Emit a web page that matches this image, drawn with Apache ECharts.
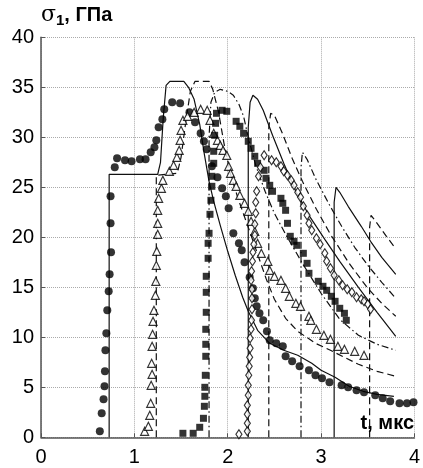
<!DOCTYPE html>
<html>
<head>
<meta charset="utf-8">
<script src="https://cdn.jsdelivr.net/npm/echarts@6/dist/echarts.min.js"></script>
<style>
  html, body { margin: 0; padding: 0; background: #fff; }
  #chart { width: 423px; height: 468px; }
</style>
</head>
<body>
<div id="chart"></div>
<script>
// Axis ticks
const xTicks = [0, 1, 2, 3, 4];
const yTicks = [0, 5, 10, 15, 20, 25, 30, 35, 40];

// Measured stress histories [t, mks ; sigma, GPa]
const circles = [
  [0.63,0.6],[0.65,2.4],[0.67,3.8],[0.68,5.1],[0.685,6.6],[0.69,8.7],[0.70,10.4],[0.71,12.7],
  [0.725,14.6],[0.735,16.3],[0.75,18.5],[0.745,21.4],[0.745,24.1],[0.79,27.0],[0.815,27.9],
  [0.90,27.7],[0.97,27.6],[1.06,27.8],[1.12,27.8],[1.175,28.5],[1.215,29.0],[1.235,29.7],
  [1.26,31.0],[1.30,31.8],[1.32,32.8],[1.405,33.5],[1.49,33.4],[1.59,32.5],[1.65,31.5],
  [1.71,30.4],[1.745,29.6],[1.775,28.8],[1.83,27.1],[1.89,26.0],[1.94,24.9],[1.98,24.1],
  [2.01,22.9],[2.06,20.4],[2.12,19.4],[2.15,18.7],[2.18,17.5],[2.235,16.0],[2.27,14.9],
  [2.29,13.9],[2.31,13.1],[2.34,12.4],[2.38,11.7],[2.42,10.6],[2.45,9.7],[2.52,9.4],
  [2.59,9.1],[2.62,8.1],[2.69,7.6],[2.77,7.1],[2.87,6.7],[2.94,6.2],[3.01,5.9],[3.09,5.5],
  [3.22,5.2],[3.29,5.0],[3.38,4.7],[3.46,4.5],[3.58,4.2],[3.66,3.9],[3.74,3.6],[3.84,3.4],
  [3.92,3.4],[3.99,3.5]
];
const triangles = [
  [1.11,0.6],[1.15,1.1],[1.165,2.2],[1.175,3.4],[1.18,5.2],[1.19,6.3],[1.185,7.4],[1.19,9.1],
  [1.195,10.3],[1.20,11.6],[1.21,12.7],[1.225,14.2],[1.23,15.6],[1.235,17.2],[1.24,18.6],
  [1.25,20.3],[1.25,21.4],[1.25,22.7],[1.26,23.9],[1.29,24.9],[1.305,25.7],[1.375,26.6],
  [1.42,27.2],[1.455,28.0],[1.48,28.7],[1.49,29.7],[1.50,30.7],[1.52,31.7],[1.57,32.1],
  [1.64,32.5],[1.71,32.8],[1.78,32.7],[1.81,31.7],[1.85,30.4],[1.89,29.7],[1.92,29.2],
  [1.95,28.7],[1.99,28.2],[2.01,27.1],[2.03,26.4],[2.06,25.7],[2.09,25.1],[2.13,24.2],
  [2.18,23.4],[2.22,22.6],[2.25,21.6],[2.29,20.6],[2.32,19.4],[2.36,18.4],[2.43,17.6],
  [2.45,16.7],[2.50,16.1],[2.57,15.7],[2.62,14.9],[2.66,14.1],[2.73,13.4],[2.78,13.1],
  [2.87,12.1],[2.89,11.7],[2.95,10.8],[3.03,10.2],[3.10,9.8],[3.18,9.1],[3.25,8.8],
  [3.36,8.6],[3.46,8.2]
];
const squares = [
  [1.52,0.4],[1.63,0.4],[1.70,1.0],[1.74,1.9],[1.75,3.1],[1.755,4.1],[1.755,5.0],[1.76,6.2],
  [1.765,8.1],[1.765,9.3],[1.765,10.8],[1.77,12.5],[1.77,14.5],[1.77,16.1],[1.79,17.9],
  [1.79,19.4],[1.80,20.4],[1.81,22.3],[1.82,23.7],[1.83,25.1],[1.83,26.1],[1.85,27.4],
  [1.85,28.6],[1.86,30.2],[1.87,31.4],[1.88,32.4],[1.94,32.7],[1.99,32.6],[2.09,31.6],
  [2.13,31.1],[2.17,30.4],[2.22,29.6],[2.25,28.9],[2.29,28.1],[2.32,27.4],[2.39,26.7],
  [2.41,25.9],[2.45,25.2],[2.48,24.6],[2.57,23.9],[2.59,23.4],[2.62,22.7],[2.64,21.4],
  [2.67,20.1],[2.71,19.6],[2.74,19.2],[2.81,18.4],[2.85,17.4],[2.87,16.4],[2.97,15.6],
  [3.02,15.1],[3.06,14.7],[3.11,14.1],[3.15,13.6],[3.20,12.9],[3.25,12.4],[3.27,11.7]
];
const diamonds = [
  [2.12,0.3],[2.21,0.6],[2.21,1.4],[2.21,2.3],[2.21,3.2],[2.22,4.2],[2.22,5.2],[2.225,6.2],
  [2.23,7.1],[2.235,8.0],[2.24,8.9],[2.24,9.9],[2.25,10.8],[2.255,11.7],[2.26,12.8],
  [2.26,13.9],[2.26,14.8],[2.25,15.7],[2.255,16.6],[2.265,17.6],[2.27,18.5],[2.28,19.3],
  [2.29,20.2],[2.29,21.3],[2.30,22.4],[2.30,23.5],[2.31,24.6],[2.33,26.1],[2.35,27.0],
  [2.39,28.2],[2.47,27.7],[2.52,27.5],[2.57,27.1],[2.60,26.6],[2.64,26.2],[2.68,25.7],
  [2.71,25.2],[2.75,24.5],[2.78,24.0],[2.81,23.1],[2.85,22.2],[2.87,21.4],[2.90,20.7],
  [2.95,19.9],[2.99,19.3],[3.04,18.4],[3.06,17.6],[3.10,16.9],[3.14,16.2],[3.19,15.7],
  [3.23,15.2],[3.28,14.8],[3.33,14.5],[3.38,14.0],[3.43,13.8],[3.46,13.6],[3.50,13.3],
  [3.53,12.8]
];

// Computed profiles at successive gauge positions
const calc1 = [
  [0.73,0],[0.73,26.3],[1.25,26.3],[1.28,27.5],[1.31,32],[1.34,35.2],[1.38,35.6],[1.53,35.6],
  [1.58,35.0],[1.64,33.8],[1.70,31.3],[1.75,28.3],[1.80,25.6],[1.85,23.6],[1.92,21.2],
  [2.0,18.6],[2.08,16.2],[2.16,14.0],[2.22,12.6],[2.32,10.7],[2.45,9.4],[2.6,8.7],
  [2.75,8.2],[2.9,7.4],[3.0,6.7],[3.15,6.0],[3.3,5.1],[3.45,4.6],[3.6,4.3],[3.78,4.1]
];
const calc2 = [
  [1.235,0],[1.235,26.2],[1.46,26.4],[1.50,28],[1.55,31.5],[1.60,34.6],[1.65,35.6],[1.80,35.6],
  [1.84,34.8],[1.90,32.6],[1.96,29.4],[2.03,26.3],[2.11,23.9],[2.25,20.2],[2.41,15.9],
  [2.5,13.8],[2.62,11.9],[2.75,10.6],[2.94,9.4],[3.1,8.7],[3.25,8.0],[3.4,7.3],[3.6,6.6],[3.8,6.1]
];
const calc3 = [
  [1.80,0],[1.80,30],[1.82,33.5],[1.86,34.5],[1.92,34.8],[2.0,34.6],[2.06,34.2],[2.12,33.3],
  [2.17,32.1],[2.22,30],[2.3,27.2],[2.4,24.6],[2.5,22.4],[2.62,20.3],[2.8,17.4],[3.0,14.4],
  [3.2,11.8],[3.4,10.2],[3.6,9.3],[3.8,8.7]
];
const calc4 = [
  [2.22,0],[2.22,31],[2.24,33.5],[2.27,34.2],[2.32,33.8],[2.38,32.7],[2.48,30.2],[2.6,27.4],
  [2.73,24.6],[2.87,22.2],[3.04,19.8],[3.2,17.6],[3.4,15.0],[3.6,12.5],[3.8,10.1]
];
const calc5 = [
  [2.44,0],[2.44,31],[2.46,32.4],[2.5,32.2],[2.59,30.3],[2.69,27.9],[2.8,25.6],[2.95,22.8],
  [3.1,20.3],[3.3,17.4],[3.5,14.9],[3.65,13.4],[3.8,12.1]
];
const calc6 = [
  [2.785,0],[2.785,27],[2.80,28.5],[2.85,27.8],[2.94,25.9],[3.08,23.4],[3.22,21.1],[3.36,19],
  [3.5,17.2],[3.65,15.5],[3.8,13.9]
];
const calc7 = [
  [3.14,0],[3.14,23.5],[3.16,25],[3.2,24.5],[3.29,23.1],[3.43,21.1],[3.53,19.6],[3.65,18],[3.8,16.3]
];
const calc8 = [
  [3.52,0],[3.52,21],[3.535,22.2],[3.6,21.4],[3.7,20.1],[3.78,19.1]
];

const SOLID = 'solid';
const DASHED = [7, 4];
const DASHDOT = [7, 3, 1.5, 3];
const FONT = 'Liberation Sans, Arial, sans-serif';

function calcSeries(data, type) {
  return {
    type: 'line', data: data, showSymbol: false, smooth: false, silent: true,
    lineStyle: { color: '#111', width: 1.2, type: type }, z: 2
  };
}
function markSeries(data, symbol, size, filled) {
  return {
    type: 'scatter', data: data, symbol: symbol, symbolSize: size, silent: true,
    itemStyle: filled
      ? { color: '#000', borderColor: '#000', borderWidth: 0 }
      : { color: '#fff', borderColor: '#000', borderWidth: 1.2 },
    z: 3
  };
}

const chart = echarts.init(document.getElementById('chart'), null, { renderer: 'canvas' });
chart.setOption({
  animation: false,
  backgroundColor: '#fff',
  grid: { left: 41, right: 2, top: 37.3, bottom: 30.7, containLabel: false },
  xAxis: {
    type: 'value', min: xTicks[0], max: xTicks[xTicks.length - 1], interval: 1,
    axisLine: { show: true, lineStyle: { color: '#555', width: 1.5 } },
    axisTick: { show: true, inside: true, length: 4, lineStyle: { color: '#555' } },
    axisLabel: { color: '#000', fontSize: 20, fontFamily: FONT, margin: 10 },
    splitLine: { show: true, lineStyle: { color: '#aaa', type: 'dotted', width: 1 } }
  },
  yAxis: {
    type: 'value', min: yTicks[0], max: yTicks[yTicks.length - 1], interval: 5,
    axisLine: { show: true, lineStyle: { color: '#555', width: 1.5 } },
    axisTick: { show: true, inside: true, length: 4, lineStyle: { color: '#555' } },
    axisLabel: { color: '#000', fontSize: 20, fontFamily: FONT, margin: 7 },
    splitLine: { show: true, lineStyle: { color: '#aaa', type: 'dotted', width: 1 } }
  },
  graphic: [
    {
      type: 'text', left: 41, top: 4, z: 10,
      style: {
        text: '{s|σ}{sub|1}{b|, ГПа}',
        rich: {
          s: { fontSize: 22, fontFamily: 'DejaVu Serif, serif', fill: '#000' },
          sub: { fontSize: 15, fontWeight: 'bold', fontFamily: FONT, fill: '#000', padding: [12, 0, 0, 0] },
          b: { fontSize: 20, fontWeight: 'bold', fontFamily: FONT, fill: '#000' }
        }
      }
    },
    {
      type: 'text', right: 9, top: 413, z: 10,
      style: { text: 't, мкс', fontSize: 20, fontWeight: 'bold', fontFamily: FONT, fill: '#000' }
    }
  ],
  series: [
    calcSeries(calc1, SOLID),
    calcSeries(calc2, DASHED),
    calcSeries(calc3, DASHDOT),
    calcSeries(calc4, SOLID),
    calcSeries(calc5, DASHED),
    calcSeries(calc6, DASHDOT),
    calcSeries(calc7, SOLID),
    calcSeries(calc8, DASHED),
    markSeries(circles, 'circle', 8, true),
    markSeries(triangles, 'triangle', 8, false),
    markSeries(squares, 'rect', 7, true),
    markSeries(diamonds, 'diamond', [6, 9], false)
  ]
});
</script>
</body>
</html>
